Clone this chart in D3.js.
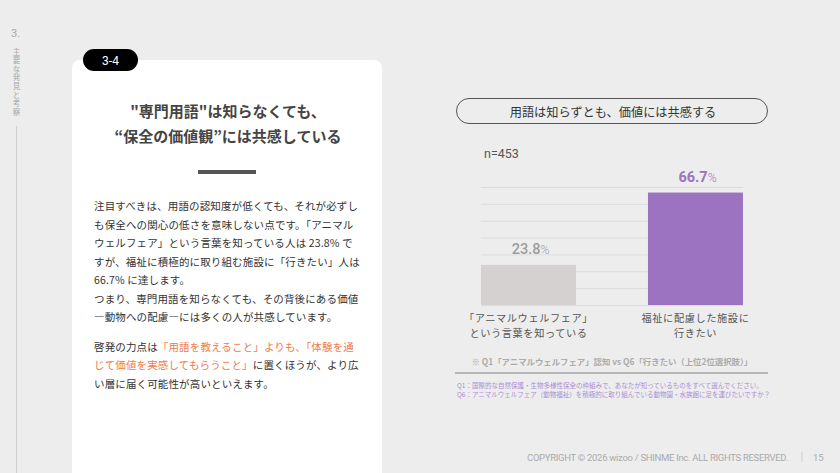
<!DOCTYPE html>
<html>
<head>
<meta charset="utf-8">
<script src="https://cdn.jsdelivr.net/npm/d3@7"></script>
<style>
  body { margin: 0; background: #ededed; position: relative; }
  svg { display: block; font-family: "Noto Sans CJK JP", "Noto Sans", sans-serif; }
  .side { position: absolute; left: 11px; top: 48px; writing-mode: vertical-rl;
          font-family: "Noto Sans CJK JP", sans-serif; font-size: 7.5px; line-height: 10px;
          letter-spacing: 1.1px; color: #a8a8a8; }
</style>
</head>
<body>
<script>
// chart data
var categories = ["awareness", "visit"];
var categoryLines = [["「アニマルウェルフェア」", "という言葉を知っている"], ["福祉に配慮した施設に", "行きたい"]];
var values = [23.8, 66.7];
var barColors = ["#d6d1d1", "#9b73c1"];
var labelColors = ["#9d9d9d", "#9b73c1"];
var gridTicks = [0, 10, 20, 30, 40, 50, 60, 70];

// left column text
var sideLabel = "主要な発見と考察";
var titleLines = ["\"専門用語\"は知らなくても、", "“保全の価値観”には共感している"];
var bodyLines = [
  [["注目すべきは、用語の認知度が低くても、それが必ずし", 0]],
  [["も保全への関心の低さを意味しない点です。「アニマル", 0]],
  [["ウェルフェア」という言葉を知っている人は 23.8% で", 0]],
  [["すが、福祉に積極的に取り組む施設に「行きたい」人は", 0]],
  [["66.7% に達します。", 0]],
  [["つまり、専門用語を知らなくても、その背後にある価値", 0]],
  [["―動物への配慮―には多くの人が共感しています。", 0]],
  [["啓発の力点は", 0], ["「用語を教えること」よりも、「体験を通", 1]],
  [["じて価値を実感してもらうこと」", 1], ["に置くほうが、より広", 0]],
  [["い層に届く可能性が高いといえます。", 0]]
];
var bodyY = [210, 229, 247, 266, 284, 303, 321, 351, 369, 388];

var W = 840, H = 473;
var svg = d3.select("body").append("svg").attr("width", W).attr("height", H);

// side label
svg.append("text").attr("x", 11).attr("y", 37).text("3.")
  .style("font-size", "11px").style("fill", "#aaa").style("font-family", "Roboto, sans-serif");
d3.select("body").append("div").attr("class", "side").text(sideLabel);
svg.append("line").attr("x1", 16.5).attr("x2", 16.5).attr("y1", 126).attr("y2", H)
  .style("stroke", "#cfcfcf").style("stroke-width", 1);

// white card
svg.append("rect").attr("x", 72).attr("y", 60).attr("width", 310).attr("height", 430)
  .attr("rx", 8).style("fill", "#fff");

// badge
svg.append("rect").attr("x", 83).attr("y", 49).attr("width", 55).attr("height", 22)
  .attr("rx", 11).style("fill", "#000");
svg.append("text").attr("x", 110.5).attr("y", 64.5).attr("text-anchor", "middle")
  .style("font-size", "12px").style("fill", "#fff").style("font-family", "Roboto, sans-serif")
  .text("3-4");

// title
svg.selectAll(".title").data(titleLines).enter().append("text")
  .attr("x", 228).attr("y", function(d, i) { return 117 + i * 25; })
  .attr("text-anchor", "middle")
  .style("font-size", "15px").style("font-weight", "bold").style("fill", "#444")
  .text(function(d) { return d; });
svg.append("rect").attr("x", 198).attr("y", 170).attr("width", 58).attr("height", 4)
  .style("fill", "#555");

// body
var body = svg.selectAll(".body").data(bodyLines).enter().append("text")
  .attr("x", 94).attr("y", function(d, i) { return bodyY[i]; })
  .style("font-size", "10.5px").style("letter-spacing", "0.14px").style("font-weight", 400);
body.selectAll("tspan").data(function(d) { return d; }).enter().append("tspan")
  .style("fill", function(d) { return d[1] ? "#f07b4b" : "#333"; })
  .text(function(d) { return d[0]; });

// chart header pill
svg.append("rect").attr("x", 456.5).attr("y", 98.5).attr("width", 311).attr("height", 25)
  .attr("rx", 12.5).style("fill", "none").style("stroke", "#555").style("stroke-width", 1);
svg.append("text").attr("x", 613).attr("y", 116.5).attr("text-anchor", "middle")
  .style("font-size", "12.2px").style("font-weight", 400).style("fill", "#333")
  .text("用語は知らずとも、価値には共感する");

svg.append("text").attr("x", 484).attr("y", 157.5).text("n=453")
  .style("font-size", "12.5px").style("fill", "#555").style("font-family", "Roboto, sans-serif");

// bar chart
var x = d3.scaleBand().domain(categories).range([481, 743]).paddingInner(0.431).paddingOuter(0);
var y = d3.scaleLinear().domain([0, 70]).range([305, 187]);

svg.append("g")
  .attr("transform", "translate(481,0)")
  .call(d3.axisLeft(y).tickValues(gridTicks).tickSize(-262).tickFormat(""))
  .call(function(g) { g.select(".domain").remove(); })
  .selectAll("line").style("stroke", "#dcdcdc");

var data = categories.map(function(c, i) { return {key: c, value: values[i], i: i}; });

svg.selectAll(".bar").data(data).enter().append("rect")
  .attr("x", function(d) { return x(d.key); })
  .attr("width", x.bandwidth())
  .attr("y", function(d) { return y(d.value); })
  .attr("height", function(d) { return y(0) - y(d.value); })
  .style("fill", function(d) { return barColors[d.i]; });

var vl = svg.selectAll(".val").data(data).enter().append("text")
  .attr("x", function(d) { return x(d.key) + x.bandwidth() / 2 + 2; })
  .attr("y", function(d) { return y(d.value) - 11; })
  .attr("text-anchor", "middle")
  .style("font-family", "Roboto, sans-serif")
  .style("fill", function(d) { return labelColors[d.i]; });
vl.append("tspan").style("font-size", "14.5px")
  .style("font-weight", function(d) { return d.i ? "bold" : 500; })
  .text(function(d) { return d.value.toFixed(1); });
vl.append("tspan").style("font-size", "12px").style("font-weight", 300).text("%");

var cl = svg.selectAll(".cat").data(data).enter().append("text")
  .attr("text-anchor", "middle")
  .style("font-size", "10.2px").style("letter-spacing", "0.6px").style("fill", "#555");
cl.selectAll("tspan").data(function(d) { return categoryLines[d.i].map(function(t) { return [t, d]; }); })
  .enter().append("tspan")
  .attr("x", function(t) { return x(t[1].key) + x.bandwidth() / 2; })
  .attr("y", function(t, j) { return 322 + j * 15; })
  .text(function(t) { return t[0]; });

// notes
svg.append("text").attr("x", 612).attr("y", 365).attr("text-anchor", "middle")
  .style("font-size", "8.4px").style("font-weight", "bold").style("fill", "#ababab")
  .text("※ Q1「アニマルウェルフェア」認知 vs Q6「行きたい（上位2位選択肢）」");
svg.append("line").attr("x1", 455).attr("x2", 768).attr("y1", 373).attr("y2", 373)
  .style("stroke", "#a5a5a5").style("stroke-width", 1.5);
svg.append("text").attr("x", 457).attr("y", 387.5)
  .style("font-size", "6.5px").style("fill", "#a98fd6")
  .text("Q1：国際的な自然保護・生物多様性保全の枠組みで、あなたが知っているものをすべて選んでください。");
svg.append("text").attr("x", 457).attr("y", 396.5)
  .style("font-size", "6.5px").style("fill", "#a98fd6")
  .text("Q6：アニマルウェルフェア（動物福祉）を積極的に取り組んでいる動物園・水族館に足を運びたいですか？");

// footer
svg.append("text").attr("x", 788).attr("y", 460.5).attr("text-anchor", "end")
  .style("font-size", "9.5px").style("fill", "#ababab").style("font-family", "Roboto, sans-serif")
  .style("letter-spacing", "-0.3px")
  .text("COPYRIGHT © 2026 wizoo / SHINME Inc. ALL RIGHTS RESERVED.");
svg.append("line").attr("x1", 802).attr("x2", 802).attr("y1", 452).attr("y2", 462)
  .style("stroke", "#cfcfcf");
svg.append("text").attr("x", 813).attr("y", 460.5)
  .style("font-size", "9.5px").style("fill", "#ababab").style("font-family", "Roboto, sans-serif")
  .text("15");
</script>
</body>
</html>
